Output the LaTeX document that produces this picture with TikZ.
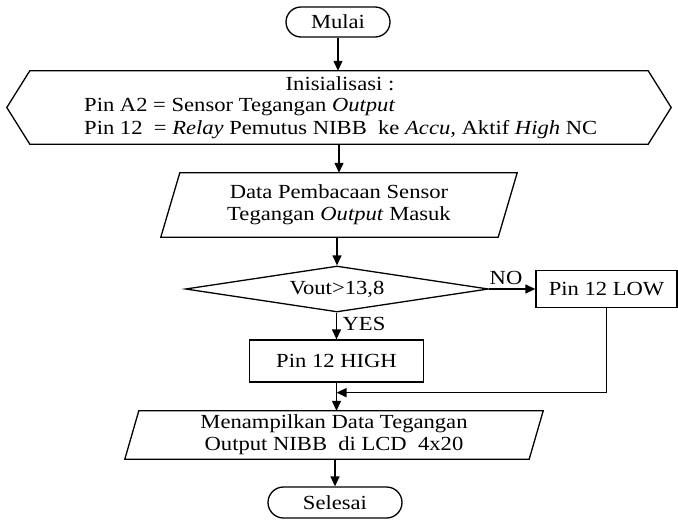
\documentclass[tikz,border=0pt]{standalone}
\usepackage{fontspec}
\setmainfont{Liberation Serif}[FakeStretch=1.13]
\usetikzlibrary{arrows.meta,shapes.misc,shapes.geometric}
\begin{document}
\begin{tikzpicture}[x=1pt,y=-1pt,
  every node/.style={font=\fontsize{20}{22}\selectfont, inner sep=0pt},
  outline/.style={line width=1.3pt, line join=miter},
  conn/.style={line width=1.3pt, -{Triangle[length=10pt,width=9pt]}},
  terminal/.style={draw, line width=1.3pt, rounded rectangle},
  procbox/.style={draw, line width=1.3pt, rectangle},
  decision/.style={draw, line width=1.3pt, diamond, shape aspect=6.6},
  frame/.style={draw=none, rectangle}]
\useasboundingbox (0,0) rectangle (678,522);

% start
\node[terminal, minimum width=104pt, minimum height=30pt] (start) at (338,22) {Mulai};

% initialisation (preparation hexagon)
\node[frame, minimum width=664pt, minimum height=73pt] (init) at (339,107.5) {};
\draw[outline] ([xshift=23pt]init.north west) -- ([xshift=-23pt]init.north east)
  -- (init.east) -- ([xshift=-23pt]init.south east)
  -- ([xshift=23pt]init.south west) -- (init.west) -- cycle;
\node (initTitle) at (340,84) {Inisialisasi :};
\node[anchor=west] (initA2) at (84,107) {Pin A2 = Sensor Tegangan \textit{Output}};
\node[anchor=west] (initP12) at (84,130) {Pin 12\ \ = \textit{Relay} Pemutus NIBB\ \ ke \textit{Accu,} Aktif \textit{High} NC};

% sensor input
\node[frame, minimum width=356pt, minimum height=64pt, align=center] (read) at (339,205)
  {Data Pembacaan Sensor\\Tegangan \textit{Output} Masuk};
\draw[outline] ([xshift=19pt]read.north west) -- (read.north east)
  -- ([xshift=-19pt]read.south east) -- (read.south west) -- cycle;

% decision
\node[decision, minimum width=303pt, minimum height=46pt] (check) at (337,289) {Vout>13,8};

% outputs
\node[procbox, minimum width=141pt, minimum height=37pt] (low) at (606.5,289) {Pin 12 LOW};
\node[procbox, minimum width=174pt, minimum height=42pt] (high) at (336.5,361) {Pin 12 HIGH};

% display output
\node[frame, minimum width=418pt, minimum height=48pt, align=center] (show) at (334,435)
  {Menampilkan Data Tegangan\\Output NIBB\ \ di LCD\ \ 4x20};
\draw[outline] ([xshift=14pt]show.north west) -- (show.north east)
  -- ([xshift=-14pt]show.south east) -- (show.south west) -- cycle;

% end
\node[terminal, minimum width=134pt, minimum height=31pt] (stop) at (335,502.5) {Selesai};

% branch labels
\node (no) at (506,277.5) {NO};
\node (yes) at (364,324) {YES};

% connectors
\draw[conn] (start.south) -- (start.south |- init.north);
\draw[conn] (init.south) -- (init.south |- read.north);
\draw[conn] (check.north |- read.south) -- (check.north);
\draw[conn] (check.east) -- (low.west);
\draw[conn] (high.north |- check.south) -- (high.north);
\draw[conn] (high.south) -- (high.south |- show.north);
\path (high.south) ++(0,10) coordinate (join);
\draw[conn] (low.south) |- (join);
\draw[conn] (stop.north |- show.south) -- (stop.north);
\end{tikzpicture}
\end{document}
